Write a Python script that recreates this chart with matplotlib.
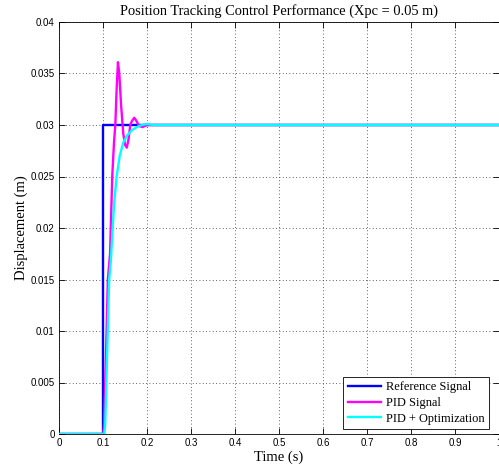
import matplotlib
matplotlib.use("Agg")
import matplotlib.pyplot as plt
import numpy as np

# Reference step signal
ref_t = [0.0, 0.1, 0.1, 1.0]
ref_y = [0.0, 0.0, 0.03, 0.03]

# PID response
pid_t = [0.0, 0.100, 0.102, 0.107, 0.111, 0.116, 0.121, 0.125, 0.128, 0.131, 0.134,
         0.137, 0.141, 0.146, 0.150, 0.154, 0.158, 0.162, 0.166, 0.171, 0.176,
         0.182, 0.190, 0.200, 0.220, 1.0]
pid_y = [0.0, 0.0, 0.0005, 0.008, 0.015, 0.0175, 0.025, 0.0283, 0.030, 0.0335, 0.0361,
         0.0350, 0.0320, 0.0292, 0.0281, 0.0278, 0.0286, 0.0300, 0.0304, 0.0307, 0.0304,
         0.0299, 0.0298, 0.0300, 0.0300, 0.0300]

# PID + Optimization response
opt_t = [0.0, 0.103, 0.105, 0.107, 0.114, 0.118, 0.120, 0.125, 0.131, 0.138,
         0.146, 0.155, 0.166, 0.177, 0.188, 0.200, 0.215, 1.0]
opt_y = [0.0, 0.0, 0.001, 0.004, 0.015, 0.0169, 0.0185, 0.0222, 0.025, 0.0270,
         0.0283, 0.0290, 0.0295, 0.0298, 0.0300, 0.0301, 0.0300, 0.0300]

xticks = [0, 0.1, 0.2, 0.3, 0.4, 0.5, 0.6, 0.7, 0.8, 0.9, 1]
xtick_labels = ["0", "0.1", "0.2", "0.3", "0.4", "0.5", "0.6", "0.7", "0.8", "0.9", "1"]
yticks = [0, 0.005, 0.01, 0.015, 0.02, 0.025, 0.03, 0.035, 0.04]
ytick_labels = ["0", "0.005", "0.01", "0.015", "0.02", "0.025", "0.03", "0.035", "0.04"]

fig = plt.figure(figsize=(4.99, 4.70), dpi=100)
ax = fig.add_axes([59/499, 36/470, 440/499, 412/470])

ax.plot(ref_t, ref_y, color="#0000ff", lw=1.7, label="Reference Signal", zorder=2)
ax.plot(pid_t, pid_y, color="#ff00ff", lw=1.7, label="PID Signal", zorder=3)
ax.plot(opt_t, opt_y, color="#00ffff", lw=1.7, label="PID + Optimization", zorder=4)

ax.set_xlim(0, 1)
ax.set_ylim(0, 0.04)
ax.set_xticks(xticks)
ax.set_xticklabels(xtick_labels, fontsize=7, family="Liberation Sans")
ax.set_yticks(yticks)
ax.set_yticklabels(ytick_labels, fontsize=7, family="Liberation Sans")
ax.tick_params(direction="in", top=True, right=True, length=4, width=0.6, pad=3)
ax.grid(True, linestyle=(0, (1, 3)), color="#333333", linewidth=0.6)
for s in ax.spines.values():
    s.set_linewidth(0.6)

ax.set_title("Position Tracking Control Performance (Xpc = 0.05 m)",
             family="Liberation Serif", fontsize=10.4, pad=5)
ax.set_xlabel("Time (s)", family="Liberation Serif", fontsize=10.5, labelpad=2)
ax.set_ylabel("Displacement (m)", family="Liberation Serif", fontsize=10.5, labelpad=2)

leg = ax.legend(loc="lower right", bbox_to_anchor=(0.977, 0.012),
                prop={"family": "Liberation Serif", "size": 8.9},
                fancybox=False, edgecolor="black", framealpha=1,
                handlelength=2.7, borderpad=0.35, labelspacing=0.3, handletextpad=0.4,
                borderaxespad=0.0)
leg.get_frame().set_linewidth(0.6)

fig.savefig("out.png", dpi=100)
